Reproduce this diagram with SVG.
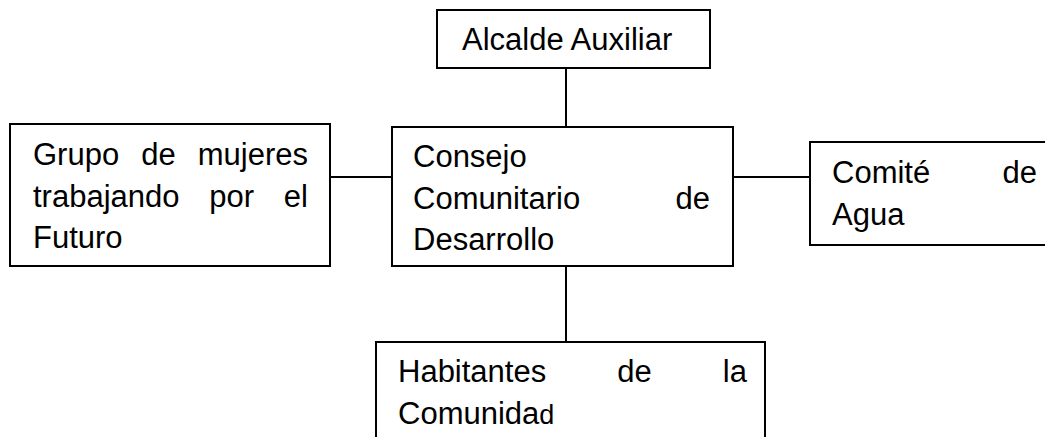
<svg xmlns="http://www.w3.org/2000/svg" width="1045" height="437" viewBox="0 0 1045 437">
<style>
.box{fill:#fff;stroke:#000;stroke-width:2}
.ln{stroke:#000;stroke-width:2;fill:none}
text{font-family:"Liberation Sans",Arial,sans-serif;font-size:31px;fill:#000}
.m{text-anchor:middle}
.e{text-anchor:end}
</style>
<rect width="1045" height="437" fill="#fff"/>
<g id="connectors">
<line class="ln" x1="566" y1="68" x2="566" y2="127"/>
<line class="ln" x1="330" y1="177" x2="392" y2="177"/>
<line class="ln" x1="733" y1="177" x2="810" y2="177"/>
<line class="ln" x1="566" y1="266" x2="566" y2="342"/>
</g>
<g id="alcalde">
<rect class="box" x="437" y="10" width="273" height="58"/>
<text x="462" y="50">Alcalde Auxiliar</text>
</g>
<g id="grupo">
<rect class="box" x="10" y="124" width="320" height="142"/>
<text x="33" y="165">Grupo</text><text class="m" x="158.5" y="165">de</text><text class="e" x="308" y="165">mujeres</text>
<text x="33" y="206.5">trabajando</text><text class="m" x="231.7" y="206.5">por</text><text class="e" x="308" y="206.5">el</text>
<text x="33" y="248">Futuro</text>
</g>
<g id="consejo">
<rect class="box" x="392" y="127" width="341" height="139"/>
<text x="413" y="167">Consejo</text>
<text x="413" y="208.5">Comunitario</text><text class="e" x="710" y="208.5">de</text>
<text x="413" y="250">Desarrollo</text>
</g>
<g id="comite">
<rect class="box" x="810" y="142" width="250" height="103"/>
<text x="832" y="183">Comité</text><text class="e" x="1037" y="183">de</text>
<text x="832" y="224.5">Agua</text>
</g>
<g id="habitantes">
<rect class="box" x="376" y="342" width="389" height="110"/>
<text x="398" y="382">Habitantes</text><text class="m" x="634.5" y="382">de</text><text class="e" x="747" y="382">la</text>
<text x="398" y="423.5">Comunida<tspan font-size="27">d</tspan></text>
</g>
</svg>
